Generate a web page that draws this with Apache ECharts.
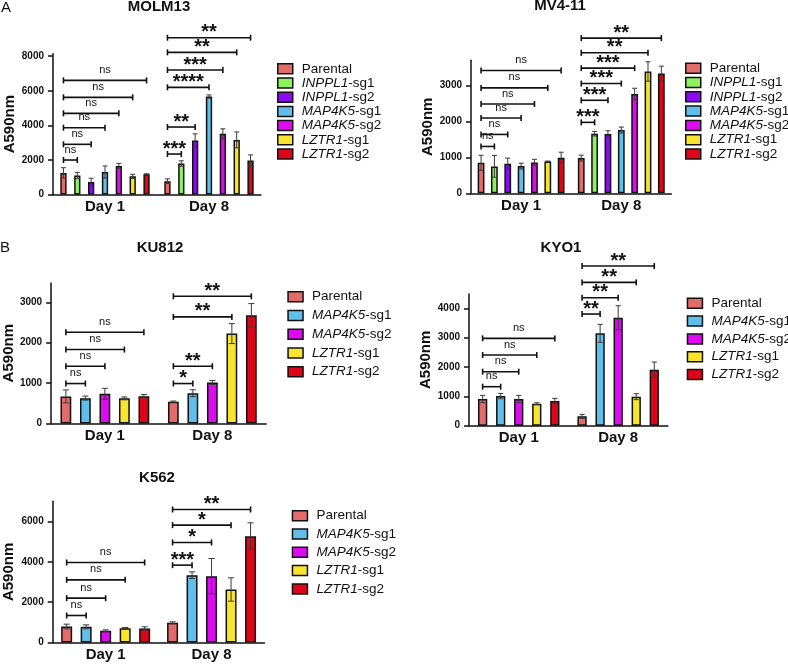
<!DOCTYPE html>
<html>
<head>
<meta charset="utf-8">
<script src="https://cdn.jsdelivr.net/npm/echarts@6/dist/echarts.min.js"></script>
<style>
html,body{margin:0;padding:0;background:#fff;}
#chart{width:788px;height:668px;}
</style>
</head>
<body>
<div id="chart"></div>
<script>
// ---------- DATA ----------
const days = ['Day 1', 'Day 8'];
const groupsA = ['Parental', 'INPPL1-sg1', 'INPPL1-sg2', 'MAP4K5-sg1', 'MAP4K5-sg2', 'LZTR1-sg1', 'LZTR1-sg2'];
const groupsB = ['Parental', 'MAP4K5-sg1', 'MAP4K5-sg2', 'LZTR1-sg1', 'LZTR1-sg2'];

// MOLM13
const molm13Day1 = [1250, 1100, 720, 1300, 1650, 1050, 1170];
const molm13Day1Sd = [300, 180, 220, 350, 150, 120, 30];
const molm13Day8 = [770, 1790, 3120, 5665, 3510, 3160, 1965];
const molm13Day8Sd = [135, 160, 390, 95, 290, 460, 325];
const molm13Day1Sig = [1995, 2903, 3865, 4695, 5620, 6603];
const molm13Day1Lab = ['ns', 'ns', 'ns', 'ns', 'ns', 'ns'];
const molm13Day8Sig = [2342, 3904, 6200, 7200, 8224, 9070];
const molm13Day8Lab = ['***', '**', '****', '***', '**', '**'];
const molm13Ticks = [0, 2000, 4000, 6000, 8000];

// MV4-11
const mv411Day1 = [850, 750, 820, 758, 861, 889, 989];
const mv411Day1Sd = [210, 305, 160, 80, 85, 10, 155];
const mv411Day8 = [980, 1660, 1650, 1761, 2768, 3392, 3336];
const mv411Day8Sd = [82, 64, 93, 84, 158, 271, 205];
const mv411Day1Sig = [1305, 1640, 2097, 2488, 2936, 3420];
const mv411Day1Lab = ['ns', 'ns', 'ns', 'ns', 'ns', 'ns'];
const mv411Day8Sig = [1976, 2591, 3057, 3486, 3914, 4324];
const mv411Day8Lab = ['***', '***', '***', '***', '**', '**'];
const mv411Ticks = [0, 1000, 2000, 3000];

// KU812
const ku812Day1 = [670, 628, 735, 622, 676];
const ku812Day1Sd = [160, 50, 135, 35, 41];
const ku812Day8 = [540, 750, 1015, 2226, 2679];
const ku812Day8Sd = [15, 85, 50, 247, 289];
const ku812Day1Sig = [989, 1418, 1830, 2259];
const ku812Day1Lab = ['ns', 'ns', 'ns', 'ns'];
const ku812Day8Sig = [989, 1418, 2638, 3149];
const ku812Day8Lab = ['*', '**', '**', '**'];
const ku812Ticks = [0, 1000, 2000, 3000];

// KYO1
const kyo1Day1 = [909, 1011, 909, 750, 841];
const kyo1Day1Sd = [125, 91, 125, 34, 91];
const kyo1Day8 = [318, 3148, 3682, 989, 1909];
const kyo1Day8Sd = [68, 307, 409, 102, 261];
const kyo1Day1Sig = [1330, 1841, 2409, 2977];
const kyo1Day1Lab = ['ns', 'ns', 'ns', 'ns'];
const kyo1Day8Sig = [3807, 4364, 4886, 5443];
const kyo1Day8Lab = ['**', '**', '**', '**'];
const kyo1Ticks = [0, 1000, 2000, 3000, 4000];

// K562
const k562Day1 = [793, 777, 579, 711, 694];
const k562Day1Sd = [116, 99, 49, 33, 83];
const k562Day8 = [975, 3339, 3289, 2628, 5273];
const k562Day8Sd = [50, 165, 876, 579, 661];
const k562Day1Sig = [1339, 2198, 3107, 3967];
const k562Day1Lab = ['ns', 'ns', 'ns', 'ns'];
const k562Day8Sig = [3835, 4959, 5818, 6595];
const k562Day8Lab = ['***', '*', '*', '**'];
const k562Ticks = [0, 2000, 4000, 6000];

// ---------- STYLE / LAYOUT ----------
const FONT = '"Liberation Sans", Arial, Helvetica, sans-serif';
const INK = '#111';
const colorMap = {
  'Parental': '#E46B6B',
  'INPPL1-sg1': '#8DF25C',
  'INPPL1-sg2': '#8A0AF2',
  'MAP4K5-sg1': '#5FBFEA',
  'MAP4K5-sg2': '#DD0CF0',
  'LZTR1-sg1': '#F6E52C',
  'LZTR1-sg2': '#DE0518'
};

const panels = [
  { title: 'MOLM13', tx: 159, ty: 7, groups: groupsA,
    d1: molm13Day1, s1: molm13Day1Sd, d8: molm13Day8, s8: molm13Day8Sd,
    g1: molm13Day1Sig, l1: molm13Day1Lab, g8: molm13Day8Sig, l8: molm13Day8Lab, ticks: molm13Ticks,
    left: 53, width: 208, top: 53.8, height: 140.7, max: 8140, bw: 6.3, pitch: 13.85,
    lgLeft: 277, lgCenter: 68.3, lgSpace: 13.2, lgLine: 13, nameGap: 36 },
  { title: 'MV4-11', tx: 560, ty: 6, groups: groupsA,
    d1: mv411Day1, s1: mv411Day1Sd, d8: mv411Day8, s8: mv411Day8Sd,
    g1: mv411Day1Sig, l1: mv411Day1Lab, g8: mv411Day8Sig, l8: mv411Day8Lab, ticks: mv411Ticks,
    left: 471, width: 200.4, top: 60.3, height: 133, max: 3705, bw: 6.8, pitch: 13.35,
    lgLeft: 685, lgCenter: 67.7, lgSpace: 13.3, lgLine: 13, nameGap: 36 },
  { title: 'KU812', tx: 160, ty: 247.5, groups: groupsB,
    d1: ku812Day1, s1: ku812Day1Sd, d8: ku812Day8, s8: ku812Day8Sd,
    g1: ku812Day1Sig, l1: ku812Day1Lab, g8: ku812Day8Sig, l8: ku812Day8Lab, ticks: ku812Ticks,
    left: 49.3, width: 216.8, top: 282.9, height: 140.6, max: 3480, bw: 10.8, pitch: 19.5,
    lgLeft: 287.3, lgCenter: 296.7, lgSpace: 18.75, lgLine: 14, nameGap: 33 },
  { title: 'KYO1', tx: 561, ty: 247.5, groups: groupsB,
    d1: kyo1Day1, s1: kyo1Day1Sd, d8: kyo1Day8, s8: kyo1Day8Sd,
    g1: kyo1Day1Sig, l1: kyo1Day1Lab, g8: kyo1Day8Sig, l8: kyo1Day8Lab, ticks: kyo1Ticks,
    left: 469, width: 198.9, top: 294, height: 131.7, max: 4490, bw: 9.3, pitch: 18.05,
    lgLeft: 686.7, lgCenter: 303.3, lgSpace: 17.8, lgLine: 14, nameGap: 34 },
  { title: 'K562', tx: 157, ty: 477.5, groups: groupsB,
    d1: k562Day1, s1: k562Day1Sd, d8: k562Day8, s8: k562Day8Sd,
    g1: k562Day1Sig, l1: k562Day1Lab, g8: k562Day8Sig, l8: k562Day8Lab, ticks: k562Ticks,
    left: 52.7, width: 211.8, top: 501.3, height: 141.2, max: 7000, bw: 11, pitch: 19.5,
    lgLeft: 291.7, lgCenter: 515.7, lgSpace: 18.3, lgLine: 14, nameGap: 36 }
];

function legendFormatter(name) {
  if (name === 'Parental') return '{n|Parental}';
  const k = name.indexOf('-');
  return '{i|' + name.slice(0, k) + '}{n|' + name.slice(k) + '}';
}

const grid = [], xAxis = [], yAxis = [], series = [], legend = [];

panels.forEach((p, pi) => {
  const n = p.groups.length;
  grid.push({ left: p.left, top: p.top, width: p.width, height: p.height, containLabel: false });
  xAxis.push({
    type: 'category', gridIndex: pi, data: days,
    axisLine: { lineStyle: { color: INK, width: 1.5 } },
    axisTick: { alignWithLabel: true, length: 4, lineStyle: { color: INK, width: 1.5 } },
    axisLabel: { color: INK, fontFamily: FONT, fontWeight: 'bold', fontSize: 15, margin: 5 },
    splitLine: { show: false }
  });
  yAxis.push({
    type: 'value', gridIndex: pi, min: 0, max: p.max,
    name: 'A590nm', nameLocation: 'middle', nameGap: p.nameGap,
    nameTextStyle: { color: INK, fontFamily: FONT, fontWeight: 'bold', fontSize: 15 },
    axisLine: { show: true, lineStyle: { color: INK, width: 1.5 } },
    axisTick: { show: true, length: 5, customValues: p.ticks, lineStyle: { color: INK, width: 1.5 } },
    axisLabel: { color: INK, fontFamily: FONT, fontWeight: 'bold', fontSize: 10, margin: 9,
      customValues: p.ticks, formatter: v => String(Math.round(v)) },
    splitLine: { show: false }
  });
  const gapPct = ((p.pitch - p.bw) / p.bw * 100) + '%';
  p.groups.forEach((g, gi) => {
    series.push({
      type: 'bar', name: g, xAxisIndex: pi, yAxisIndex: pi,
      data: [p.d1[gi], p.d8[gi]],
      barWidth: p.bw, barGap: gapPct,
      itemStyle: { color: colorMap[g], borderColor: INK, borderWidth: 1.5 },
      silent: true, z: 2, animation: false
    });
  });
  // error bars
  const errData = [];
  p.groups.forEach((g, gi) => {
    errData.push([0, gi, p.d1[gi], p.s1[gi]]);
    errData.push([1, gi, p.d8[gi], p.s8[gi]]);
  });
  const bw = p.bw, pitch = p.pitch;
  series.push({
    type: 'custom', xAxisIndex: pi, yAxisIndex: pi, clip: false, silent: true, z: 5, animation: false,
    encode: { x: 0, y: 2 },
    data: errData,
    renderItem: function (params, api) {
      const cat = api.value(0), i = api.value(1), m = api.value(2), sd = api.value(3);
      const c = api.coord([cat, m]);
      const x = c[0] + (i - (n - 1) / 2) * pitch;
      const yT = api.coord([cat, m + sd])[1];
      const yB = api.coord([cat, Math.max(0, m - sd)])[1];
      const hw = Math.max(2.5, bw * 0.28);
      const st = { stroke: '#3a3a3a', lineWidth: 1 };
      return { type: 'group', children: [
        { type: 'line', shape: { x1: x, y1: yT, x2: x, y2: yB }, style: st },
        { type: 'line', shape: { x1: x - hw, y1: yT, x2: x + hw, y2: yT }, style: st },
        { type: 'line', shape: { x1: x - hw, y1: yB, x2: x + hw, y2: yB }, style: st }
      ] };
    }
  });
  // significance brackets
  const sigData = [], sigLab = [];
  p.g1.forEach((v, k) => { sigData.push([0, k + 1, v]); sigLab.push(p.l1[k]); });
  p.g8.forEach((v, k) => { sigData.push([1, k + 1, v]); sigLab.push(p.l8[k]); });
  series.push({
    type: 'custom', xAxisIndex: pi, yAxisIndex: pi, clip: false, silent: true, z: 6, animation: false,
    encode: { x: 0, y: 2 },
    data: sigData,
    renderItem: function (params, api) {
      const cat = api.value(0), t = api.value(1), v = api.value(2);
      const c = api.coord([cat, v]);
      const x1 = c[0] + (0 - (n - 1) / 2) * pitch;
      const x2 = c[0] + (t - (n - 1) / 2) * pitch;
      const y = c[1];
      const lab = sigLab[params.dataIndex];
      const st = { stroke: INK, lineWidth: 1.6 };
      const isNs = lab === 'ns';
      return { type: 'group', children: [
        { type: 'line', shape: { x1: x1, y1: y, x2: x2, y2: y }, style: st },
        { type: 'line', shape: { x1: x1, y1: y - 3, x2: x1, y2: y + 3 }, style: st },
        { type: 'line', shape: { x1: x2, y1: y - 3, x2: x2, y2: y + 3 }, style: st },
        { type: 'text', style: {
            text: lab, x: (x1 + x2) / 2, y: isNs ? y - 10.5 : y - 5,
            align: 'center', verticalAlign: 'middle',
            fontFamily: FONT, fontSize: isNs ? 11 : 20, fontWeight: isNs ? 'normal' : 'bold', fill: INK } }
      ] };
    }
  });
  legend.push({
    data: p.groups, orient: 'vertical', left: p.lgLeft, top: p.lgCenter - p.lgLine / 2,
    itemWidth: 15, itemHeight: 10, itemGap: p.lgSpace - p.lgLine, icon: 'rect',
    selectedMode: false, padding: 0,
    itemStyle: { borderColor: INK, borderWidth: 1.5 },
    formatter: legendFormatter,
    textStyle: {
      color: INK, fontFamily: FONT, fontSize: 13.5, padding: [0, 0, 0, 4],
      rich: {
        i: { fontStyle: 'italic', fontFamily: FONT, fontSize: 13.5, color: INK, lineHeight: p.lgLine },
        n: { fontFamily: FONT, fontSize: 13.5, color: INK, lineHeight: p.lgLine }
      }
    }
  });
});

const graphic = [
  { type: 'text', left: 1, top: 0, style: { text: 'A', font: '15px ' + FONT, fill: INK } },
  { type: 'text', left: 0, top: 240, style: { text: 'B', font: '15px ' + FONT, fill: INK } }
];
panels.forEach(p => {
  graphic.push({ type: 'text', x: p.tx, y: p.ty,
    style: { text: p.title, x: 0, y: 0, align: 'center', verticalAlign: 'middle',
      font: 'bold 15px ' + FONT, fill: INK } });
});

const chart = echarts.init(document.getElementById('chart'), null, { renderer: 'canvas' });
chart.setOption({
  animation: false,
  backgroundColor: '#fff',
  grid: grid, xAxis: xAxis, yAxis: yAxis, legend: legend, series: series, graphic: graphic
});
</script>
</body>
</html>
